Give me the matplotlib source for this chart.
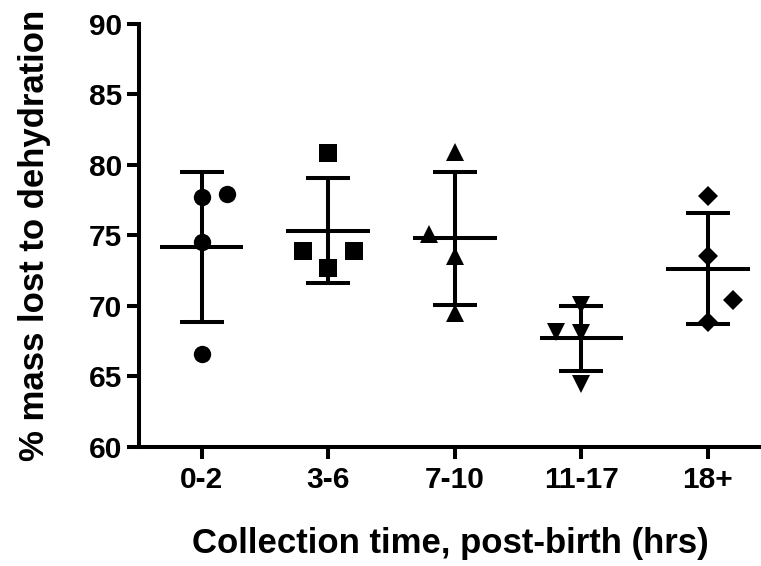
import numpy as np
import matplotlib
matplotlib.use('Agg')
import matplotlib.pyplot as plt

plt.rcParams['font.family'] = ['Liberation Sans', 'DejaVu Sans']
plt.rcParams['font.weight'] = 'bold'

# collection time groups and the individual measurements (% mass lost)
groups = ['0-2', '3-6', '7-10', '11-17', '18+']
pts_0_2 = [77.73, 77.92, 74.50, 66.57]
pts_3_6 = [80.85, 73.88, 73.88, 72.70]
pts_7_10 = [80.95, 75.13, 73.54, 69.52]
pts_11_17 = [70.05, 68.16, 68.06, 64.48]
pts_18 = [77.78, 73.55, 70.38, 68.82]
all_pts = [pts_0_2, pts_3_6, pts_7_10, pts_11_17, pts_18]

# side-by-side slot of each point (Prism style scatter, in marker widths)
slots = [[0, 1, 0, 0], [0, -1, 1, 0], [0, -1, 0, 0], [0, -1, 0, 0], [0, 0, 1, 0]]
markers = ['o', 's', '^', 'v', 'D']
msizes = {'o': 12.5, 's': 12.5, '^': 12.5, 'v': 12.5, 'D': 10.4}

fig = plt.figure(figsize=(7.61, 5.66), dpi=100)
ax = fig.add_axes([0.1827, 0.2108, 0.8173, 0.7468])

lw = 2.9
for i, pts in enumerate(all_pts):
    pts = np.array(pts)
    m = pts.mean()
    sd = pts.std(ddof=1)
    xs = i + 0.2 * np.array(slots[i])
    ax.plot(xs, pts, linestyle='none', marker=markers[i], ms=msizes[markers[i]],
            color='black', markeredgewidth=0, zorder=3)
    ax.hlines(m, i - 0.33, i + 0.33, color='black', lw=lw, zorder=2)
    ax.errorbar(i, m, yerr=sd, fmt='none', ecolor='black', elinewidth=lw,
                capsize=15.8, capthick=lw, zorder=2)

ax.set_xlim(-0.495, 4.42)
ax.set_ylim(60, 90)
ax.set_xticks(range(len(groups)))
ax.set_xticklabels(groups)
ax.set_yticks(np.arange(60, 91, 5))

for s in ['top', 'right']:
    ax.spines[s].set_visible(False)
for s in ['left', 'bottom']:
    ax.spines[s].set_linewidth(lw)

ax.tick_params(axis='both', length=8.6, width=lw, labelsize=21.5, color='black')
ax.tick_params(axis='y', pad=3.5)
ax.tick_params(axis='x', pad=5)
for lab in ax.get_xticklabels() + ax.get_yticklabels():
    lab.set_fontweight('bold')

ax.set_xlabel('Collection time, post-birth (hrs)', fontsize=25, fontweight='bold', labelpad=24)
ax.set_ylabel('% mass lost to dehydration', fontsize=25, fontweight='bold', labelpad=27)

fig.savefig('out.png', dpi=100)
